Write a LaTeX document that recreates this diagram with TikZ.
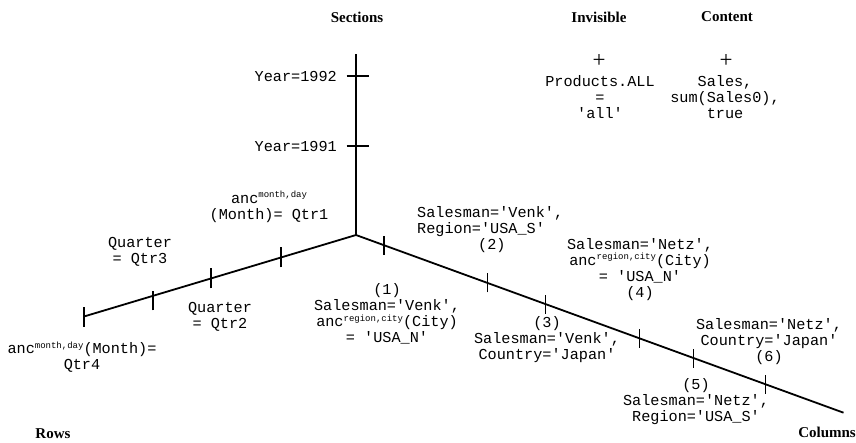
\documentclass[tikz,border=0pt]{standalone}
\usepackage{fontspec}
\setmainfont{Liberation Serif}
\setmonofont{Liberation Mono}
\usetikzlibrary{calc}
% small raised index after "anc"
\newcommand{\ancsup}[1]{anc\raisebox{5.5pt}{\fontsize{9}{9}\selectfont #1}}
\begin{document}
\begin{tikzpicture}[x=1pt,y=-1pt,
  axis/.style={line width=1.8pt},
  tickmark/.style={line width=1.2pt},
  lbl/.style={font=\ttfamily\fontsize{15.2}{16}\selectfont, align=center, inner sep=0pt},
  ttl/.style={font=\bfseries\fontsize{15}{17}\selectfont, inner sep=0pt},
  plus/.style={font=\fontsize{23}{23}\selectfont, inner sep=0pt}]
\useasboundingbox (0,0) rectangle (856,442);

% axes
\coordinate (O) at (356,235);
\coordinate (top) at (356,54);
\coordinate (rowend) at (84,316.5);
\coordinate (colend) at (843.5,412.7);
\draw[axis] (top) -- (O) -- (rowend);
\draw[axis] (O) -- (colend);

% ticks on the section axis
\foreach \t/\n in {0.878/y92, 0.492/y91}
  \coordinate (\n) at ($(O)!\t!(top)$);
\draw[tickmark] ([xshift=-9.5pt]y92) -- ([xshift=12.5pt]y92);
\draw[tickmark] ([xshift=-9.5pt]y91) -- ([xshift=12.5pt]y91);

% ticks on the row axis
\foreach \t/\n in {0.2757/r1, 0.533/r2, 1/r4}
  \coordinate (\n) at ($(O)!\t!(rowend)$);
\coordinate (r3) at ($(O)!0.746!(rowend)$);
\foreach \n in {r1,r2,r4}
  \draw[tickmark] ([yshift=-10pt]\n) -- ([yshift=10pt]\n);
\draw[tickmark] ([yshift=-14.5pt]r3) -- ([yshift=4.5pt]r3);

% ticks on the column axis
\foreach \t/\n in {0.0574/c1, 0.2693/c2, 0.389/c3, 0.581/c4, 0.693/c5, 0.840/c6}{
  \coordinate (\n) at ($(O)!\t!(colend)$);
  \draw[tickmark] ([yshift=-9.5pt]\n) -- ([yshift=9.5pt]\n);
}

% axis titles
\node[ttl] (sections) at (357,17) {Sections};
\node[ttl] (invisible) at (599,17) {Invisible};
\node[ttl] (content) at (727,17) {Content};
\node[ttl] (rows) at (53,433.5) {Rows};
\node[ttl] (columns) at (827,432) {Columns};

% invisible and content dimensions
\node[plus] (plusinv) at (599,61) {+};
\node[plus] (pluscont) at (726,61) {+};
\node[lbl] (products) at (600,97) {Products.ALL\\=\\'all'};
\node[lbl] (sales) at (725,97) {Sales,\\sum(Sales0),\\true};

% section labels
\node[lbl, anchor=east] (year92) at (337,76) {Year=1992};
\node[lbl, anchor=east] (year91) at (337,146) {Year=1991};

% row labels
\node[lbl] (qtr1) at (269,207) {\ancsup{month,day}\\(Month)= Qtr1};
\node[lbl] (qtr3) at (140,252) {Quarter\\= Qtr3};
\node[lbl] (qtr2) at (220,317) {Quarter\\= Qtr2};
\node[lbl] (qtr4) at (82,357) {\ancsup{month,day}(Month)=\\Qtr4};

% column labels
\node[lbl] (col1) at (387,314) {(1)\\Salesman='Venk',\\\ancsup{region,city}(City)\\= 'USA\_N'};
\node[lbl, align=left, anchor=west] (col2) at (417,229.5) {Salesman='Venk',\\Region='USA\_S'\\\hspace*{61pt}(2)};
\node[lbl] (col3) at (547,340) {(3)\\Salesman='Venk',\\Country='Japan'};
\node[lbl] (col4) at (640,269.5) {Salesman='Netz',\\\ancsup{region,city}(City)\\= 'USA\_N'\\(4)};
\node[lbl] (col5) at (696,402) {(5)\\Salesman='Netz',\\Region='USA\_S'};
\node[lbl] (col6) at (769,342) {Salesman='Netz',\\Country='Japan'\\(6)};
\end{tikzpicture}
\end{document}
